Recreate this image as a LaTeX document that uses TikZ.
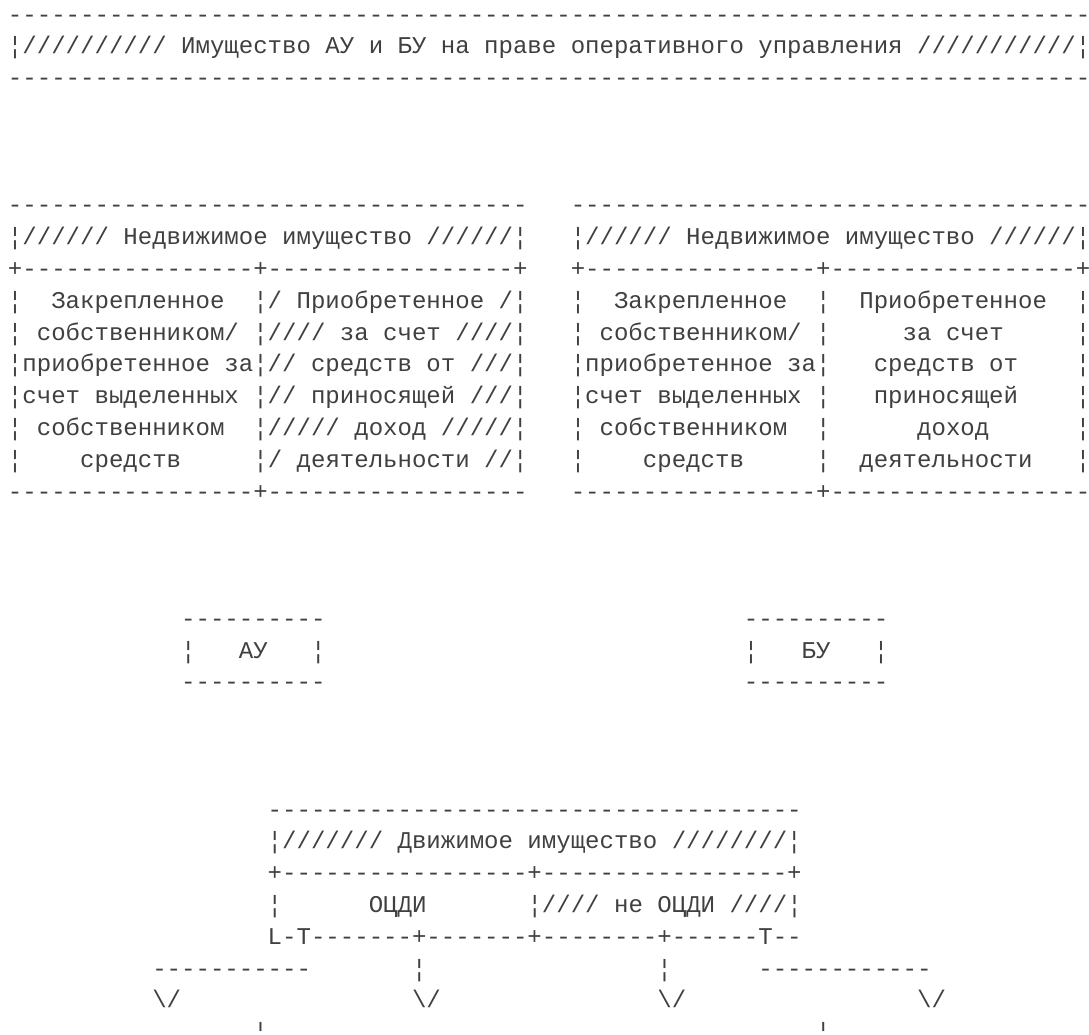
\documentclass[tikz,border=0pt]{standalone}
\usepackage{fontspec}
\setmonofont{Liberation Mono}

\newcommand{\runof}[2]{\foreach \k in {1,...,#1}{#2}}

\begin{document}
\begin{tikzpicture}[
    x=14.43pt, y=-31.8pt, shift={(8pt,-20pt)},
    row/.style={anchor=mid west, inner sep=0pt, outer sep=0pt, text=black!75,
        font=\ttfamily\fontsize{24.05}{28}\selectfont}
]
    \path[fill=white] (-8pt,20pt) rectangle ++(1089pt,-1035pt);
    \useasboundingbox (-8pt,20pt) rectangle ++(1089pt,-1035pt);

    % Title
    \node[row] (titletop) at (0,0) {\runof{75}{-}};
    \node[row] (title) at (0,1) {¦\runof{10}{/} Имущество АУ и БУ на праве оперативного управления \runof{11}{/}¦};
    \node[row] (titlebot) at (0,2) {\runof{75}{-}};

    % Nedvizhimoe, left box
    \node[row] (ntopL) at (0,6) {\runof{36}{-}};
    \node[row] (nheadL) at (0,7) {¦\runof{6}{/} Недвижимое имущество \runof{6}{/}¦};
    \node[row] (nsepL) at (0,8) {+\runof{16}{-}+\runof{17}{-}+};
    \node[row] (nrowLa) at (0,9) {¦~~Закрепленное~~¦/ Приобретенное /¦};
    \node[row] (nrowLb) at (0,10) {¦~собственником/~¦//// за счет ////¦};
    \node[row] (nrowLc) at (0,11) {¦приобретенное за¦// средств от ///¦};
    \node[row] (nrowLd) at (0,12) {¦счет выделенных~¦// приносящей ///¦};
    \node[row] (nrowLe) at (0,13) {¦~собственником~~¦///// доход /////¦};
    \node[row] (nrowLf) at (0,14) {¦~~~~средств~~~~~¦/ деятельности //¦};
    \node[row] (nbotL) at (0,15) {\runof{17}{-}+\runof{18}{-}};

    % Nedvizhimoe, right box
    \node[row] (ntopR) at (39,6) {\runof{36}{-}};
    \node[row] (nheadR) at (39,7) {¦\runof{6}{/} Недвижимое имущество \runof{6}{/}¦};
    \node[row] (nsepR) at (39,8) {+\runof{16}{-}+\runof{17}{-}+};
    \node[row] (nrowRa) at (39,9) {¦~~Закрепленное~~¦~~Приобретенное~~¦};
    \node[row] (nrowRb) at (39,10) {¦~собственником/~¦~~~~~за счет~~~~~¦};
    \node[row] (nrowRc) at (39,11) {¦приобретенное за¦~~~средств от~~~~¦};
    \node[row] (nrowRd) at (39,12) {¦счет выделенных~¦~~~приносящей~~~~¦};
    \node[row] (nrowRe) at (39,13) {¦~собственником~~¦~~~~~~доход~~~~~~¦};
    \node[row] (nrowRf) at (39,14) {¦~~~~средств~~~~~¦~~деятельности~~~¦};
    \node[row] (nbotR) at (39,15) {\runof{17}{-}+\runof{18}{-}};

    % AU / BU
    \node[row] (autop) at (12,19) {\runof{10}{-}};
    \node[row] (au) at (12,20) {¦~~~АУ~~~¦};
    \node[row] (aubot) at (12,21) {\runof{10}{-}};
    \node[row] (butop) at (51,19) {\runof{10}{-}};
    \node[row] (bu) at (51,20) {¦~~~БУ~~~¦};
    \node[row] (bubot) at (51,21) {\runof{10}{-}};

    % Dvizhimoe
    \node[row] (dtop) at (18,25) {\runof{37}{-}};
    \node[row] (dhead) at (18,26) {¦\runof{7}{/} Движимое имущество \runof{8}{/}¦};
    \node[row] (dsep) at (18,27) {+\runof{17}{-}+\runof{17}{-}+};
    \node[row] (docdi) at (18,28) {¦~~~~~~ОЦДИ~~~~~~~¦\runof{4}{/} не ОЦДИ \runof{4}{/}¦};
    \node[row] (dfork) at (18,29) {L-T\runof{7}{-}+\runof{7}{-}+\runof{8}{-}+\runof{6}{-}T\runof{2}{-}};

    % Branches
    \node[row] (brleft) at (10,30) {\runof{11}{-}};
    \node[row] (stemA) at (28,30) {¦};
    \node[row] (stemB) at (45,30) {¦};
    \node[row] (brright) at (52,30) {\runof{12}{-}};
    \node[row] (arrA) at (10,31) {\textbackslash/};
    \node[row] (arrB) at (28,31) {\textbackslash/};
    \node[row] (arrC) at (45,31) {\textbackslash/};
    \node[row] (arrD) at (63,31) {\textbackslash/};
    \node[row] (tailA) at (17,32) {¦};
    \node[row] (tailB) at (56,32) {¦};
\end{tikzpicture}
\end{document}
